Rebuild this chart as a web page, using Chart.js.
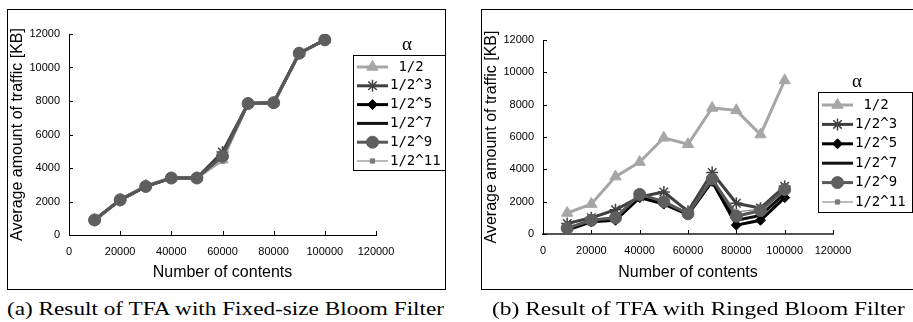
<!DOCTYPE html>
<html>
<head>
<meta charset="utf-8">
<script src="https://cdn.jsdelivr.net/npm/chart.js@4.4.1/dist/chart.umd.min.js"></script>
<style>
  html, body { margin: 0; padding: 0; background: #fff; }
  body { width: 913px; height: 322px; position: relative; overflow: hidden; }
  canvas { position: absolute; }
  .panel { position: absolute; border: 1px solid #000; box-sizing: border-box; pointer-events: none; }
  .caption { position: absolute; font-family: "Liberation Serif", serif; font-size: 18.5px; line-height: 1; white-space: nowrap; transform-origin: 0 0; color: #000; }
</style>
</head>
<body>
<canvas id="chartA" width="439" height="281" style="left:7px;top:9px;width:439px;height:281px"></canvas>
<div class="panel" style="left:7px;top:9px;width:439px;height:281px"></div>
<canvas id="chartB" width="432" height="281" style="left:481px;top:9px;width:432px;height:281px"></canvas>
<div class="panel" style="left:481px;top:9px;width:445px;height:281px"></div>
<div class="caption" id="capA" style="left:7px;top:300px">(a) Result of TFA with Fixed-size Bloom Filter</div>
<div class="caption" id="capB" style="left:492px;top:300px">(b) Result of TFA with Ringed Bloom Filter</div>

<script>
// categories / tick labels
const contents = [10000, 20000, 30000, 40000, 50000, 60000, 70000, 80000, 90000, 100000];
const alphaLabels = [' 1/2', '1/2^3', '1/2^5', '1/2^7', '1/2^9', '1/2^11'];
const xTicks = [0, 20000, 40000, 60000, 80000, 100000, 120000];
const yTicks = [0, 2000, 4000, 6000, 8000, 10000, 12000];

// (a) fixed-size bloom filter
const fixedA1  = [900, 2100, 2950, 3400, 3400, 4500, 7850, 7900, 10850, 11650];
const fixedA3  = [880, 2080, 2900, 3400, 3400, 4950, 7850, 7900, 10850, 11650];
const fixedA5  = [900, 2100, 2900, 3400, 3400, 4700, 7850, 7900, 10850, 11650];
const fixedA7  = [900, 2100, 2900, 3400, 3400, 4700, 7850, 7900, 10850, 11650];
const fixedA9  = [900, 2100, 2900, 3400, 3400, 4700, 7850, 7900, 10850, 11650];
const fixedA11 = [900, 2100, 2900, 3400, 3400, 4400, 7850, 7900, 10850, 11650];

// (b) ringed bloom filter
const ringedA1  = [1300, 1850, 3550, 4450, 5950, 5550, 7800, 7650, 6150, 9500];
const ringedA3  = [650, 1000, 1500, 2300, 2600, 1400, 3800, 1900, 1600, 2950];
const ringedA5  = [250, 750, 850, 2250, 1850, 1200, 3250, 550, 850, 2250];
const ringedA7  = [300, 800, 950, 2350, 1950, 1250, 3300, 850, 1150, 2500];
const ringedA9  = [350, 850, 1000, 2450, 2000, 1250, 3400, 1100, 1450, 2750];
const ringedA11 = [400, 900, 1050, 2400, 2050, 1300, 3400, 1350, 1550, 2850];

const seriesStyle = [
  { line: '#a6a6a6', fill: '#a6a6a6', width: 3,   point: 'triangle', radius: 6.5, order: 0 },
  { line: '#404040', fill: '#404040', width: 3,   point: 'star',     radius: 6,   order: 0 },
  { line: '#000000', fill: '#000000', width: 3,   point: 'rectRot',  radius: 5,   order: 0 },
  { line: '#111111', fill: '#111111', width: 3,   point: 'circle',   radius: 0,   order: 0 },
  { line: '#575757', fill: '#5e5e5e', width: 3,   point: 'circle',   radius: 6,   order: -1 },
  { line: '#8a8a8a', fill: '#7a7a7a', width: 1.2, point: 'rect',     radius: 3,   order: 0 }
];

// ticks that point into the plot area
const innerTicks = {
  id: 'innerTicks',
  beforeDatasetsDraw(chart) {
    const { ctx, scales: { x, y } } = chart;
    ctx.save();
    ctx.strokeStyle = '#000';
    ctx.lineWidth = 1;
    ctx.beginPath();
    x.ticks.forEach(t => {
      const px = Math.round(x.getPixelForValue(t.value)) + 0.5;
      ctx.moveTo(px, x.top);
      ctx.lineTo(px, x.top - 4);
    });
    y.ticks.forEach(t => {
      const py = Math.round(y.getPixelForValue(t.value)) + 0.5;
      ctx.moveTo(y.right, py);
      ctx.lineTo(y.right + 4, py);
    });
    ctx.stroke();
    ctx.restore();
  }
};

// boxed legend with the alpha heading above it
const boxLegend = {
  id: 'boxLegend',
  afterDraw(chart, args, o) {
    const ctx = chart.ctx;
    ctx.save();
    ctx.strokeStyle = '#000';
    ctx.lineWidth = 1;
    ctx.strokeRect(o.x + 0.5, o.y + 0.5, o.w, o.h);

    ctx.fillStyle = '#000';
    ctx.font = '19px "Liberation Serif"';
    ctx.textAlign = 'center';
    ctx.textBaseline = 'middle';
    ctx.fillText('α', o.titleX, o.titleY);

    chart.data.datasets.forEach((ds, i) => {
      const y = o.rowY + i * o.rowGap;
      ctx.strokeStyle = ds.borderColor;
      ctx.lineWidth = ds.borderWidth;
      ctx.beginPath();
      ctx.moveTo(o.lineX, y);
      ctx.lineTo(o.lineX + 31, y);
      ctx.stroke();
      if (ds.pointRadius > 0) {
        ctx.fillStyle = ds.pointBackgroundColor;
        ctx.strokeStyle = ds.pointBorderColor;
        ctx.lineWidth = ds.pointBorderWidth;
        Chart.helpers.drawPoint(ctx, { pointStyle: ds.pointStyle, radius: ds.pointRadius, borderWidth: ds.pointBorderWidth, rotation: 0 }, o.lineX + 15.5, y);
      }
      ctx.fillStyle = '#000';
      ctx.font = '14px "DejaVu Sans Mono"';
      ctx.textAlign = 'left';
      ctx.textBaseline = 'middle';
      ctx.fillText(ds.label, o.textX, y);
    });
    ctx.restore();
  }
};

function makeChart(id, series, lay) {
  const datasets = series.map((vals, i) => {
    const s = seriesStyle[i];
    return {
      label: alphaLabels[i],
      data: contents.map((c, k) => ({ x: c, y: vals[k] })),
      borderColor: s.line,
      borderWidth: s.width,
      pointStyle: s.point,
      pointRadius: s.radius,
      pointBackgroundColor: s.fill,
      pointBorderColor: s.point === 'star' ? s.line : s.fill,
      pointBorderWidth: s.point === 'star' ? 1.5 : 1,
      tension: 0,
      order: s.order
    };
  });

  return new Chart(document.getElementById(id), {
    type: 'line',
    data: { datasets },
    options: {
      responsive: false,
      animation: false,
      devicePixelRatio: 1,
      layout: { padding: { left: 0, top: lay.top, right: lay.right, bottom: 0 } },
      plugins: {
        legend: { display: false },
        tooltip: { enabled: false },
        boxLegend: lay.legend
      },
      scales: {
        x: {
          type: 'linear',
          min: 0,
          max: 120000,
          afterBuildTicks: sc => { sc.ticks = xTicks.map(v => ({ value: v })); },
          afterFit: sc => { sc.height = lay.xHeight; },
          grid: { display: false, drawTicks: false },
          border: { display: true, color: lay.xAxisColor, width: lay.xAxisWidth },
          ticks: {
            padding: 10,
            maxRotation: 0,
            autoSkip: false,
            color: '#000',
            font: { family: '"Liberation Sans"', size: 11 },
            callback: v => String(v)
          },
          title: {
            display: true,
            text: 'Number of contents',
            color: '#000',
            font: { family: '"Liberation Sans"', size: 16 },
            padding: { top: 0, bottom: 8 }
          }
        },
        y: {
          min: 0,
          max: 12000,
          afterBuildTicks: sc => { sc.ticks = yTicks.map(v => ({ value: v })); },
          afterFit: sc => { sc.width = 62; },
          grid: { display: false, drawTicks: false },
          border: { display: true, color: '#000', width: 1 },
          ticks: {
            padding: 9,
            color: '#000',
            font: { family: '"Liberation Sans"', size: 11 },
            callback: v => String(v)
          },
          title: {
            display: true,
            text: 'Average amount of traffic [KB]',
            color: '#000',
            font: { family: '"Liberation Sans"', size: 16 },
            padding: { top: 1, bottom: 0 }
          }
        }
      }
    },
    plugins: [innerTicks, boxLegend]
  });
}

makeChart('chartA', [fixedA1, fixedA3, fixedA5, fixedA7, fixedA9, fixedA11], {
  top: 25, right: 70, xHeight: 55, xAxisColor: '#000', xAxisWidth: 1,
  legend: { x: 346, y: 46, w: 93, h: 115, titleX: 400, titleY: 36, rowY: 58, rowGap: 18.8, lineX: 350, textX: 383 }
});

makeChart('chartB', [ringedA1, ringedA3, ringedA5, ringedA7, ringedA9, ringedA11], {
  top: 31, right: 80, xHeight: 56, xAxisColor: '#555', xAxisWidth: 2,
  legend: { x: 337, y: 83, w: 94, h: 120, titleX: 376, titleY: 73, rowY: 96, rowGap: 19.4, lineX: 341, textX: 374 }
});

// stretch captions to the width they have in the figure
function fitCaption(id, prefix, target) {
  const el = document.getElementById(id);
  const c = document.createElement('canvas').getContext('2d');
  c.font = '18.5px "Liberation Serif"';
  const w = c.measureText(prefix).width;
  el.style.transform = 'scaleX(' + (target / w) + ')';
}
fitCaption('capA', '(a) Result of TFA with Fixed-si', 293);
fitCaption('capB', '(b) Result of TFA with Ring', 266);
</script>
</body>
</html>
